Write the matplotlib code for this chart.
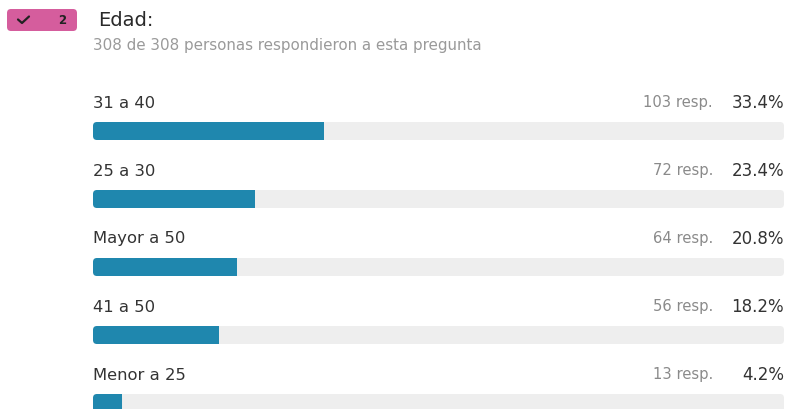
import matplotlib
matplotlib.use("Agg")
import matplotlib.pyplot as plt
from matplotlib.patches import FancyBboxPatch, Rectangle

# respuestas por grupo de edad
categorias = ["31 a 40", "25 a 30", "Mayor a 50", "41 a 50", "Menor a 25"]
respuestas = [103, 72, 64, 56, 13]
porcentajes = [33.4, 23.4, 20.8, 18.2, 4.2]
total = 308

plt.rcParams['font.family'] = ['DejaVu Sans']

W, H = 788, 409
fig = plt.figure(figsize=(W / 100, H / 100), dpi=100)
ax = fig.add_axes([0, 0, 1, 1])
ax.set_xlim(0, W)
ax.set_ylim(H, 0)
ax.axis('off')

# etiqueta rosa con el numero de pregunta
ax.add_patch(FancyBboxPatch((7, 9), 70, 22, boxstyle="round,pad=0,rounding_size=4",
                            fc="#d55d9d", ec="none"))
ax.plot([18, 22, 29], [19.5, 23, 16.5], color="#222222", lw=1.6,
        solid_capstyle="round", solid_joinstyle="round")
ax.text(62, 20, "2", fontsize=8.5, fontweight="bold", color="#222222",
        ha="center", va="center")

ax.text(98, 20.5, "Edad:", fontsize=14, color="#2a2a2a",
        ha="left", va="center")
ax.text(93, 45.5, "%d de %d personas respondieron a esta pregunta" % (total, total),
        fontsize=10.9, color="#9a9a9a", ha="left", va="center")

x0, x1 = 93, 784
ancho = x1 - x0
y_barra = 122
paso = 68
alto = 18

for i, (cat, n, p) in enumerate(zip(categorias, respuestas, porcentajes)):
    yb = y_barra + i * paso
    ax.text(x0, yb - 19, cat, fontsize=11.8, color="#333333", ha="left", va="center")
    ax.text(713, yb - 19, "%d resp." % n, fontsize=10.6, color="#8a8a8a",
            ha="right", va="center")
    ax.text(x1, yb - 19, "%.1f%%" % p, fontsize=12, color="#333333",
            ha="right", va="center")
    # fondo de la barra
    ax.add_patch(FancyBboxPatch((x0, yb), ancho, alto,
                                boxstyle="round,pad=0,rounding_size=4",
                                fc="#eeeeee", ec="none"))
    # relleno proporcional al porcentaje
    w = ancho * p / 100
    ax.add_patch(FancyBboxPatch((x0, yb), w, alto,
                                boxstyle="round,pad=0,rounding_size=4",
                                fc="#1f87ae", ec="none"))
    ax.add_patch(Rectangle((x0 + w - 5, yb), 5, alto, fc="#1f87ae", ec="none"))

fig.savefig("out.png", dpi=100)
